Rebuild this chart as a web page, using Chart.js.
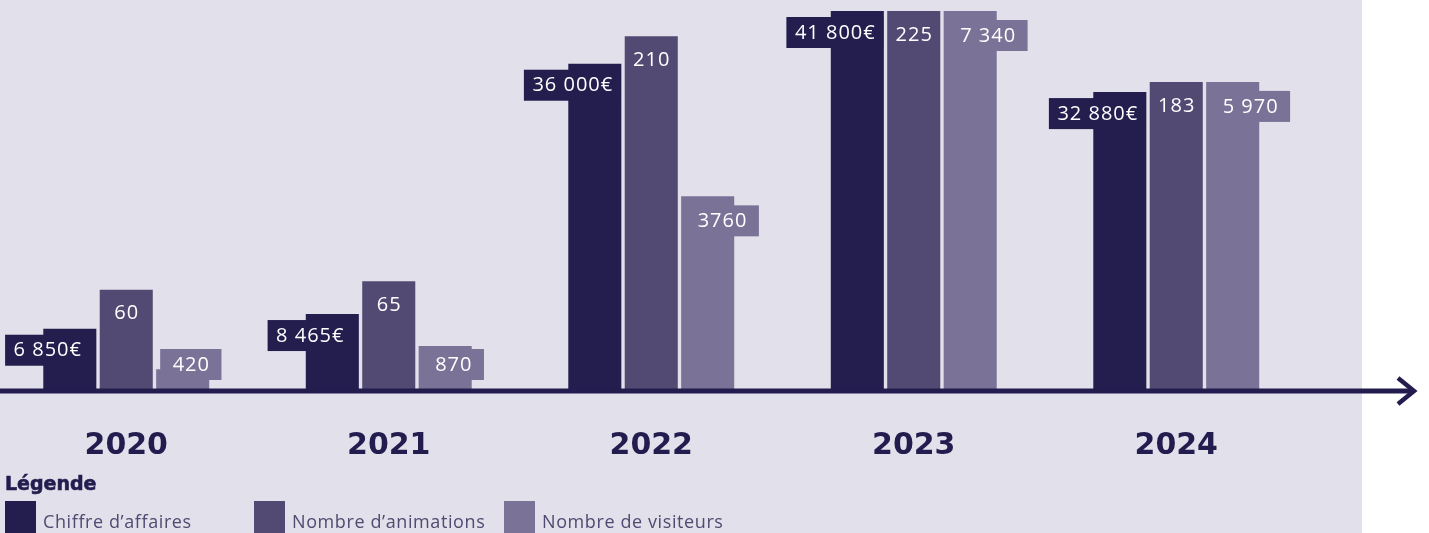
<!DOCTYPE html>
<html><head><meta charset="utf-8">
<script src="https://cdn.jsdelivr.net/npm/chart.js@4"></script>
<style>
html,body{margin:0;padding:0;background:#fff;width:1429px;height:533px;overflow:hidden;position:relative;}
#bg{position:absolute;left:0;top:0;width:1362px;height:533px;background:#e2e0ea;}
#c{position:absolute;left:-5px;top:0;}
#legendTitle{position:absolute;left:5px;top:471px;font-family:"DejaVu Sans";font-weight:bold;font-size:19px;color:#231d4f;line-height:24px;z-index:2;-webkit-text-stroke:0.6px #231d4f;}
#legend{position:absolute;left:5px;top:501px;display:grid;grid-template-columns:249px 250px auto;z-index:2;}
.item{display:flex;align-items:flex-start;}
.sw{width:31px;height:32px;flex:none;}
.lt{margin-left:7px;margin-top:7px;font-family:"Open Sans";font-size:18px;letter-spacing:0.6px;color:#4f4a70;line-height:26px;white-space:nowrap;}
</style></head>
<body>
<div id="bg"></div>
<canvas id="c" width="1434" height="533"></canvas>
<div id="legendTitle">Légende</div>
<div id="legend"></div>
<script>
const years = ['2020', '2021', '2022', '2023', '2024'];
const chiffreAffaires = [6850, 8465, 36000, 41800, 32880];
const nbAnimations = [60, 65, 210, 225, 183];
const nbVisiteurs = [420, 870, 3760, 7340, 5970];
const labelsCA = ['6 850€', '8 465€', '36 000€', '41 800€', '32 880€'];
const labelsAnim = ['60', '65', '210', '225', '183'];
const labelsVis = ['420', '870', '3760', '7 340', '5 970'];
const seriesNames = ['Chiffre d’affaires', 'Nombre d’animations', 'Nombre de visiteurs'];
const seriesColors = ['#231e4e', '#524a72', '#7b7397'];

const NAVY = '#231d4f';
const TOP_FRACTION = 380 / 391;

const axisPlugin = {
  id: 'arrowAxis',
  afterDatasetsDraw(chart) {
    const ctx = chart.ctx;
    const y = chart.chartArea.bottom;
    const tip = 1419;
    ctx.save();
    ctx.strokeStyle = NAVY;
    ctx.lineWidth = 5;
    ctx.beginPath();
    ctx.moveTo(0, y);
    ctx.lineTo(tip - 2, y);
    ctx.stroke();
    ctx.lineWidth = 4.5;
    ctx.lineJoin = 'miter';
    ctx.beginPath();
    ctx.moveTo(tip - 16, y - 13);
    ctx.lineTo(tip, y);
    ctx.lineTo(tip - 16, y + 13);
    ctx.stroke();
    ctx.restore();
  }
};

const labelPlugin = {
  id: 'valueBoxes',
  afterDatasetsDraw(chart) {
    const ctx = chart.ctx;
    const base = chart.chartArea.bottom;
    ctx.save();
    ctx.font = '20px "Open Sans"';
    try { ctx.letterSpacing = '1px'; } catch (e) {}
    ctx.textAlign = 'center';
    ctx.textBaseline = 'middle';
    chart.data.datasets.forEach((ds, di) => {
      const meta = chart.getDatasetMeta(di);
      meta.data.forEach((bar, i) => {
        const p = bar.getProps(['x', 'y', 'width'], true);
        const left = p.x - p.width / 2;
        const txt = ds.valueLabels[i];
        const tw = ctx.measureText(txt).width;
        let cx, top, pad;
        if (di === 0) { pad = 8; cx = left + 4; top = p.y + 6; }
        else if (di === 1) { pad = 0; cx = p.x; top = p.y + 8; }
        else { pad = 12; top = Math.min(p.y + 9, base - 42); cx = left + 4 + pad + tw / 2; }
        if (pad > 0) {
          ctx.fillStyle = ds.backgroundColor;
          ctx.fillRect(cx - tw / 2 - pad, top, tw + 2 * pad, 31);
        }
        ctx.fillStyle = '#ffffff';
        ctx.fillText(txt, cx + 0.5, top + 16);
      });
    });
    ctx.restore();
  }
};

const seriesData = [chiffreAffaires, nbAnimations, nbVisiteurs];
const seriesLabels = [labelsCA, labelsAnim, labelsVis];
const axisIds = ['yCA', 'yAnim', 'yVis'];

const datasets = seriesData.map((d, k) => ({
  label: seriesNames[k],
  data: d,
  valueLabels: seriesLabels[k],
  backgroundColor: seriesColors[k],
  yAxisID: axisIds[k],
  borderWidth: 0,
  barPercentage: 0.94,
  categoryPercentage: 0.645
}));

const yScales = {};
axisIds.forEach((id, k) => {
  yScales[id] = {
    display: false,
    min: 0,
    max: Math.max(...seriesData[k]) / TOP_FRACTION
  };
});

new Chart(document.getElementById('c'), {
  type: 'bar',
  data: { labels: years, datasets },
  options: {
    responsive: false,
    animation: false,
    events: [],
    layout: { padding: { left: 0, right: 121.5, top: 0, bottom: 0 } },
    plugins: { legend: { display: false }, tooltip: { enabled: false } },
    scales: Object.assign({
      x: {
        grid: { display: false, drawTicks: false },
        border: { display: false },
        ticks: {
          padding: 37,
          color: NAVY,
          font: { family: 'DejaVu Sans', weight: 'bold', size: 30 }
        },
        afterFit(scale) { scale.height = 142; }
      }
    }, yScales)
  },
  plugins: [axisPlugin, labelPlugin]
});

const legendEl = document.getElementById('legend');
seriesNames.forEach((name, k) => {
  const it = document.createElement('div');
  it.className = 'item';
  const sw = document.createElement('div');
  sw.className = 'sw';
  sw.style.background = seriesColors[k];
  const t = document.createElement('span');
  t.className = 'lt';
  t.textContent = name;
  it.appendChild(sw);
  it.appendChild(t);
  legendEl.appendChild(it);
});
</script>
</body></html>
